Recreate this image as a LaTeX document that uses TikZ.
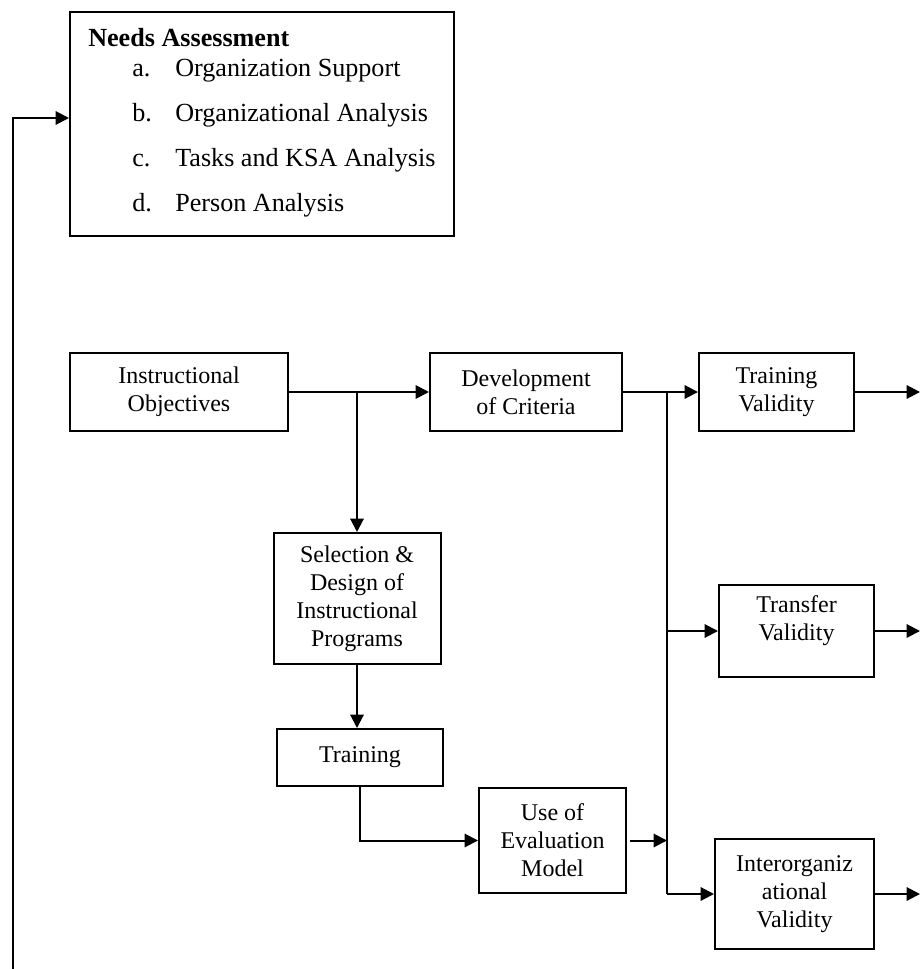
\documentclass[tikz,border=0pt]{standalone}
\usepackage{fontspec}
\setmainfont{Liberation Serif}
\usetikzlibrary{arrows.meta}

\begin{document}
\begin{tikzpicture}[x=0.75pt,y=-0.75pt,
  every node/.style={font=\fontsize{18pt}{21pt}\selectfont},
  box/.style={draw, line width=1.5pt, align=center, inner sep=0pt},
  txt/.style={anchor=base west, inner sep=0pt, font=\fontsize{19.6pt}{23pt}\selectfont},
  link/.style={line width=1.5pt},
  arr/.style={link, -{Triangle[length=10pt,width=10pt]}}]

\useasboundingbox (0,0) rectangle (920,969);

% Needs assessment block
\node[box, minimum width=288pt, minimum height=168pt] (needs) at (262,124) {};
\node[txt] (nhead) at (88,47) {\textbf{Needs Assessment}};
\node[txt] (na) at (132,77) {a.};
\node[txt] (nat) at (175,77) {Organization Support};
\node[txt] (nb) at (132,122) {b.};
\node[txt] (nbt) at (175,122) {Organizational Analysis};
\node[txt] (nc) at (132,167) {c.};
\node[txt] (nct) at (175,167) {Tasks and KSA Analysis};
\node[txt] (nd) at (132,212) {d.};
\node[txt] (ndt) at (175,212) {Person Analysis};

% Process boxes
\node[box, minimum width=163.5pt, minimum height=58.5pt] (io) at (179,392) {Instructional\\Objectives};
\node[box, minimum width=144pt, minimum height=58.5pt] (dev) at (526,392) {Development\\of Criteria};
\node[box, minimum width=116.25pt, minimum height=58.5pt] (tv) at (776.5,392) {Training\\Validity};
\node[box, minimum width=125.25pt, minimum height=98.25pt] (sel) at (357,598.5) {Selection \&\\Design of\\Instructional\\Programs};
\node[box, minimum width=124.5pt, minimum height=42.75pt] (trn) at (360,757.5) {Training};
\node[box, minimum width=110.25pt, minimum height=78.75pt] (use) at (552.5,840.5) {Use of\\Evaluation\\Model};
\node[box, minimum width=116.25pt, minimum height=69pt, text depth=20pt] (tr) at (796.5,631) {Transfer\\Validity};
\node[box, minimum width=119.25pt, minimum height=82.5pt] (inter) at (794.5,894) {Interorganiz\\ational\\Validity};

% Junction points and free ends
\coordinate (j1) at (357,392);
\coordinate (bt) at (667,392);
\coordinate (rim) at (920,0);
\coordinate (fb) at (13,969);

% Connectors
\draw[arr] (io.east) -- (dev.west);
\draw[arr] (j1) -- (j1 |- sel.north);
\draw[arr] (dev.east) -- (tv.west);
\draw[arr] (tv.east) -- (tv.east -| rim);
\draw[arr] (sel.south) -- (sel.south |- trn.north);
\draw[arr] (trn.south) |- (use.west);
\draw[arr] ([xshift=2.25pt]use.east) -- (use.east -| bt);
\draw[link] (bt) -- (bt |- inter.west);
\draw[arr] (tr.west -| bt) -- (tr.west);
\draw[arr] (inter.west -| bt) -- (inter.west);
\draw[arr] (tr.east) -- (tr.east -| rim);
\draw[arr] (inter.east) -- (inter.east -| rim);
\draw[arr] (fb) |- ([yshift=4.5pt]needs.west);

\end{tikzpicture}
\end{document}
